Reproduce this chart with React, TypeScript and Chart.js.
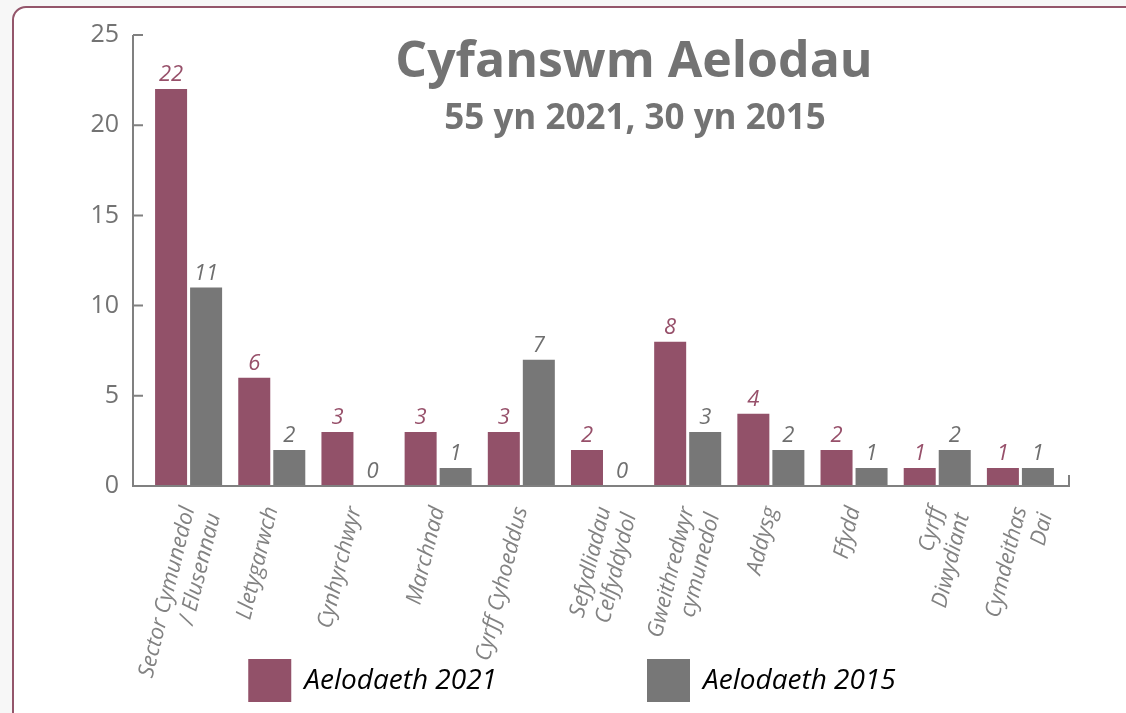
import React, { useEffect, useRef } from "react";
import { Chart, registerables } from "chart.js";

Chart.register(...registerables);

const categories: (string | string[])[] = [
  ["Sector Cymunedol", "/ Elusennau"],
  "Lletygarwch",
  "Cynhyrchwyr",
  "Marchnad",
  "Cyrff Cyhoeddus",
  ["Sefydliadau", "Celfyddydol"],
  ["Gweithredwyr", "cymunedol"],
  "Addysg",
  "Ffydd",
  ["Cyrff", "Diwydiant"],
  ["Cymdeithas", "Dai"],
];
const seriesLabels = ["Aelodaeth 2021", "Aelodaeth 2015"];
const members2021 = [22, 6, 3, 3, 3, 2, 8, 4, 2, 1, 1];
const members2015 = [11, 2, 0, 1, 7, 0, 3, 2, 1, 2, 1];
const yTicks = [0, 5, 10, 15, 20, 25];
const titleText = "Cyfanswm Aelodau";
const subtitleText = "55 yn 2021, 30 yn 2015";

const MAROON = "#925169";
const GRAY = "#777777";
const AXIS = "#808080";
const TEXT_GRAY = "#737373";
const LABEL_MAROON = "#97506a";
const FONT = "'Open Sans', 'Noto Sans', sans-serif";

export default function App() {
  const ref = useRef<HTMLCanvasElement>(null);

  useEffect(() => {
    document.body.style.margin = "0";
    const canvas = ref.current!;

    const customPlugin = {
      id: "customDecor",
      afterDatasetsDraw(chart: any) {
        const { ctx, chartArea, scales } = chart;
        const y = scales.y;
        const axisX = chartArea.left - 14;
        const right = chartArea.right + 7;
        const y0 = y.getPixelForValue(0);
        const yTop = y.getPixelForValue(yTicks[yTicks.length - 1]);
        ctx.save();
        // axes
        ctx.strokeStyle = AXIS;
        ctx.lineWidth = 2;
        ctx.beginPath();
        ctx.moveTo(axisX, yTop);
        ctx.lineTo(axisX, y0);
        ctx.moveTo(axisX - 1, y0);
        ctx.lineTo(right, y0);
        ctx.lineTo(right, y0 - 11);
        yTicks.forEach((v) => {
          const py = y.getPixelForValue(v);
          ctx.moveTo(axisX, py);
          ctx.lineTo(axisX + 10, py);
        });
        ctx.stroke();

        // data labels
        chart.data.datasets.forEach((ds: any, di: number) => {
          const meta = chart.getDatasetMeta(di);
          ctx.fillStyle = di === 0 ? LABEL_MAROON : "#6f6f6f";
          ctx.font = `italic ${di === 0 ? 500 : 400} 22px ${FONT}`;
          ctx.textAlign = "center";
          ctx.textBaseline = "bottom";
          meta.data.forEach((el: any, i: number) => {
            ctx.fillText(String(ds.data[i]), el.x, el.y - 3);
          });
        });

        // title
        ctx.fillStyle = TEXT_GRAY;
        ctx.textAlign = "center";
        ctx.textBaseline = "middle";
        ctx.font = `bold 50px ${FONT}`;
        ctx.fillText(titleText, 634, 63);
        ctx.font = `bold 35px ${FONT}`;
        ctx.fillText(subtitleText, 635, 119);

        // legend
        const box = 43;
        const gapText = 13;
        const spacing = 150;
        ctx.font = `italic 28px ${FONT}`;
        const widths = chart.data.datasets.map(
          (ds: any) => box + gapText + ctx.measureText(ds.label).width
        );
        const total =
          widths.reduce((a: number, b: number) => a + b, 0) +
          spacing * (widths.length - 1);
        let lx = 572 - total / 2;
        const ly = 659;
        chart.data.datasets.forEach((ds: any, di: number) => {
          ctx.fillStyle = ds.backgroundColor;
          ctx.fillRect(lx, ly, box, box);
          ctx.fillStyle = "#000000";
          ctx.textAlign = "left";
          ctx.textBaseline = "middle";
          ctx.fillText(ds.label, lx + box + gapText, ly + box / 2 + 1);
          lx += widths[di] + spacing;
        });
        ctx.restore();
      },
    };

    const chart = new Chart(canvas, {
      type: "bar",
      data: {
        labels: categories,
        datasets: [
          {
            label: seriesLabels[0],
            data: members2021,
            backgroundColor: MAROON,
            barPercentage: 0.914,
            categoryPercentage: 0.842,
          },
          {
            label: seriesLabels[1],
            data: members2015,
            backgroundColor: GRAY,
            barPercentage: 0.914,
            categoryPercentage: 0.842,
          },
        ],
      },
      options: {
        responsive: false,
        animation: false,
        layout: { padding: { left: 0, right: 64, top: 26, bottom: 0 } },
        plugins: {
          legend: { display: false },
          title: { display: false },
          tooltip: { enabled: false },
        },
        scales: {
          x: {
            grid: { display: false },
            border: { display: false },
            ticks: {
              color: "#828282",
              font: { family: FONT, size: 22, style: "italic" },
              maxRotation: 76,
              minRotation: 76,
              padding: 10,
              autoSkip: false,
            },
            afterFit: (s: any) => {
              s.height = 227;
            },
          },
          y: {
            min: 0,
            max: 25,
            grid: { display: false },
            border: { display: false },
            ticks: {
              stepSize: 5,
              color: TEXT_GRAY,
              font: { family: FONT, size: 25 },
              padding: 20,
            },
            afterFit: (s: any) => {
              s.width = 147;
            },
          },
        },
      },
      plugins: [customPlugin],
    });
    return () => chart.destroy();
  }, []);

  return (
    <div
      style={{
        position: "fixed",
        left: 0,
        top: 0,
        width: 1126,
        height: 713,
        background: "#f7f7f7",
        overflow: "hidden",
      }}
    >
      <div
        style={{
          position: "absolute",
          left: 12,
          top: 6,
          width: 1300,
          height: 900,
          border: "2.5px solid #94566b",
          borderRadius: 14,
          background: "#ffffff",
        }}
      />
      <canvas
        ref={ref}
        width={1126}
        height={713}
        style={{ position: "absolute", left: 0, top: 0, display: "block" }}
      />
    </div>
  );
}
